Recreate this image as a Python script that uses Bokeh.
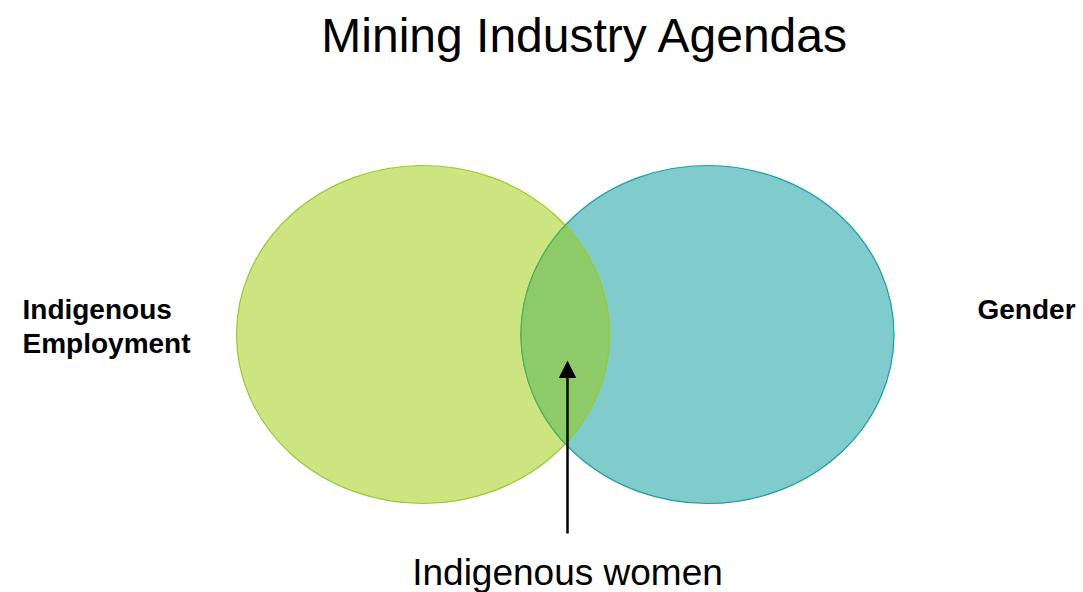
import numpy as np
from bokeh.plotting import figure
from bokeh.models import Range1d, Arrow, NormalHead, Label
from bokeh.embed import file_html
from bokeh.resources import INLINE

# ---- data ----
title_text = "Mining Industry Agendas"
set_names = ["Indigenous\nEmployment", "Gender"]
overlap_name = "Indigenous women"
set_fill = ["#cde580", "#80cbcc"]
set_line = ["#9cc92a", "#1e9e9e"]
overlap_fill = "#8dcc68"

# ---- layout (screen-pixel space of the page) ----
cx = [422.5, 707.0]
cy = 334.0
rx = 186.5
ry = 169.0

p = figure(width=1083, height=592, output_backend="svg", toolbar_location=None,
           x_range=Range1d(0, 1083), y_range=Range1d(592, 0),
           x_axis_type=None, y_axis_type=None, min_border=0)
p.grid.visible = False
p.outline_line_color = None
p.background_fill_color = "white"

p.ellipse(x=cx, y=[cy, cy], width=[2 * rx, 2 * rx], height=[2 * ry, 2 * ry],
          fill_color=set_fill, line_color=set_line, line_width=1.2)

# lens (overlap)
xi = (cx[0] + cx[1]) / 2
t0 = np.arccos((xi - cx[0]) / rx)
t = np.linspace(-t0, t0, 120)
ax = cx[0] + rx * np.cos(t)
ay = cy + ry * np.sin(t)
t1 = np.arccos((cx[1] - xi) / rx)
s = np.linspace(np.pi + t1, np.pi - t1, 120)
bx = cx[1] + rx * np.cos(s)
by = cy + ry * np.sin(s)
p.patch(np.concatenate([ax, bx]), np.concatenate([ay, by]),
        fill_color=overlap_fill, line_color=None)
p.line(bx, by, line_color="#4fb05a", line_width=1.2)
p.line(ax, ay, line_color="#9cc92a", line_width=1.2)

# arrow
p.add_layout(Arrow(end=NormalHead(size=16, fill_color="black", line_color="black"),
                   x_start=567, y_start=533, x_end=567, y_end=361,
                   line_width=2.5, line_color="black"))

font = "Liberation Sans"
p.add_layout(Label(x=585, y=35, text=title_text, text_align="center",
                   text_baseline="alphabetic", text_font=font,
                   text_font_size="48px", text_color="black"))
p.add_layout(Label(x=22, y=309, text=set_names[0].split("\n")[0], text_align="left",
                   text_baseline="alphabetic", text_font=font, text_font_style="bold",
                   text_font_size="28px", text_color="black"))
p.add_layout(Label(x=22, y=343, text=set_names[0].split("\n")[1], text_align="left",
                   text_baseline="alphabetic", text_font=font, text_font_style="bold",
                   text_font_size="28px", text_color="black"))
p.add_layout(Label(x=977, y=309, text=set_names[1], text_align="left",
                   text_baseline="alphabetic", text_font=font, text_font_style="bold",
                   text_font_size="28px", text_color="black"))
p.add_layout(Label(x=567, y=572, text=overlap_name, text_align="center",
                   text_baseline="alphabetic", text_font=font,
                   text_font_size="37px", text_color="black"))

open("out.html", "w").write(file_html(p, INLINE))
